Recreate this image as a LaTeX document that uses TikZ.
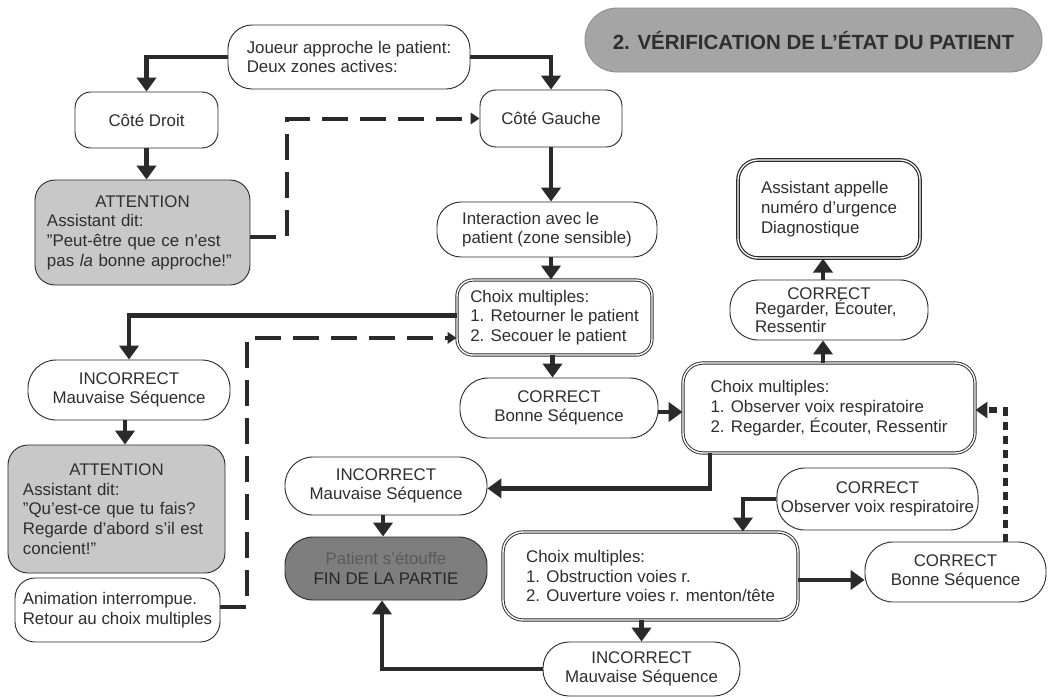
\documentclass[tikz,border=0pt]{standalone}
\usepackage{fontspec}
\setmainfont{Liberation Sans}
\usetikzlibrary{arrows.meta,calc}
\definecolor{ink}{HTML}{2A2A2A}
\definecolor{txt}{HTML}{2E2E2E}
\definecolor{attfill}{HTML}{C8C8C8}
\definecolor{finfill}{HTML}{7E7E7E}
\definecolor{fintxt}{HTML}{5A5A5A}
\definecolor{titlefill}{HTML}{A5A5A5}
\newcommand{\dq}{\char34\relax}
\begin{document}
\begin{tikzpicture}[x=0.25mm,y=-0.25mm,
  font=\fontsize{12}{14}\selectfont, text=txt,
  box/.style={draw=ink, line width=0.65pt, fill=white, rectangle, rounded corners=6mm, align=center, inner sep=1mm},
  choice/.style={box, double, double distance=1pt, line width=0.65pt, rounded corners=4mm, align=left},
  grey/.style={box, fill=attfill, rounded corners=5mm, align=left},
  flow/.style={draw=ink, line width=1.2mm, -{Triangle[width=4.8mm,length=3.5mm]}},
  dashflow/.style={draw=ink, line width=1mm, dash pattern=on 6.5mm off 3mm, -{Triangle[width=2.8mm,length=2.2mm]}},
  dotflow/.style={draw=ink, line width=1.4mm, dash pattern=on 2mm off 1.5mm, -{Triangle[width=4mm,length=3mm]}}
]
\fill[white] (0,0) rectangle (1049,697);
\useasboundingbox (0,0) rectangle (1049,697);

% nodes
\node[box, align=left, minimum width=60.5mm, minimum height=16mm] (joueur) at (349,57)
  {Joueur approche le patient:\\Deux zones actives:};
\node[box, rounded corners=4mm, minimum width=35.75mm, minimum height=14mm] (droit) at (146.5,120) {Côté Droit};
\node[grey, minimum width=53.75mm, minimum height=26.25mm, text width=47.75mm, inner xsep=3mm] (att1) at (142.5,232.5)
  {{\centering ATTENTION\par}Assistant dit:\\\dq Peut-être que ce n'est\\pas \textit{la} bonne approche!\dq};
\node[box, rounded corners=4mm, minimum width=35.5mm, minimum height=14.25mm] (gauche) at (551,118.5) {Côté Gauche};
\node[box, draw=titlefill!85!black, fill=titlefill, rounded corners=8mm, minimum width=114.25mm, minimum height=16mm,
  font=\bfseries\fontsize{14.6}{16}\selectfont] (title) at (813.5,40) {2. VÉRIFICATION DE L'ÉTAT DU PATIENT};
\node[box, align=left, rounded corners=5mm, double, double distance=0.9pt, line width=0.85pt,
  minimum width=45.5mm, minimum height=24.5mm] (assist) at (829,209)
  {Assistant appelle\\numéro d'urgence\\Diagnostique};
\node[box, align=left, minimum width=55mm, minimum height=13.75mm] (inter) at (547,229.5)
  {Interaction avec le\\patient (zone sensible)};
\node[choice, minimum width=48.75mm, minimum height=18.75mm] (choix1) at (554.5,317.5)
  {Choix multiples:\\1. Retourner le patient\\2. Secouer le patient};
\node[box, rounded corners=7mm, minimum width=49.5mm, minimum height=15mm] (bonne1) at (559,408)
  {CORRECT\\Bonne Séquence};
\node[choice, rounded corners=5mm, minimum width=73mm, minimum height=22.5mm] (choix2) at (829,408)
  {Choix multiples:\\1. Observer voix respiratoire\\2. Regarder, Écouter, Ressentir};
\node[box, rounded corners=7mm, align=left, minimum width=49.5mm, minimum height=15mm, text width=37mm, inner xsep=6.25mm,
  font=\fontsize{12}{11}\selectfont] (regard) at (829,310)
  {{\centering CORRECT\par}Regarder, Écouter,\\Ressentir};
\node[box, rounded corners=7mm, minimum width=50.5mm, minimum height=15mm] (incL) at (129,390)
  {INCORRECT\\Mauvaise Séquence};
\node[grey, minimum width=54.25mm, minimum height=32mm, text width=46.75mm, inner xsep=3.75mm] (att2) at (116.5,509)
  {{\centering ATTENTION\par}Assistant dit:\\\dq Qu'est-ce que tu fais?\\Regarde d'abord s'il est\\concient!\dq};
\node[box, align=left, rounded corners=5mm, inner xsep=0.5mm, minimum width=51.25mm, minimum height=16mm] (anim) at (117.5,610)
  {Animation interrompue.\\Retour au choix multiples};
\node[box, rounded corners=7mm, minimum width=50.5mm, minimum height=14.5mm] (incM) at (386,486)
  {INCORRECT\\Mauvaise Séquence};
\node[box, fill=finfill, rounded corners=7mm, minimum width=50.5mm, minimum height=15.75mm, text=black!85] (fin) at (386,568.5)
  {{\color{fintxt}Patient s'étouffe}\\FIN DE LA PARTIE};
\node[box, rounded corners=7mm, minimum width=49.75mm, minimum height=15.5mm] (observ) at (877.5,499)
  {CORRECT\\Observer voix respiratoire};
\node[choice, rounded corners=5mm, minimum width=73.75mm, minimum height=22mm] (choix3) at (650.5,576)
  {Choix multiples:\\1. Obstruction voies r.\\2. Ouverture voies r. menton/tête};
\node[box, rounded corners=7mm, minimum width=45.25mm, minimum height=15mm] (bonne2) at (955.5,572)
  {CORRECT\\Bonne Séquence};
\node[box, rounded corners=6.5mm, minimum width=49.25mm, minimum height=13.5mm] (incB) at (641.5,669)
  {INCORRECT\\Mauvaise Séquence};

% connectors
\draw[flow] (joueur.west) -| (droit.north);
\draw[flow] (joueur.east) -| (gauche.north);
\draw[flow] (droit.south) -- (droit.south |- att1.north);
\draw[dashflow] ([yshift=-1mm]att1.east) -- ++(37,0) |- (gauche.west);
\draw[flow] (gauche.south) -- (gauche.south |- inter.north);
\draw[flow] ([xshift=1mm]inter.south) -- ([xshift=1mm]inter.south |- choix1.north);
\draw[flow] ([yshift=0.6mm]choix1.west) -| (incL.north);
\draw[flow] ([xshift=-0.5mm]choix1.south) -- ([xshift=-0.5mm]choix1.south |- bonne1.north);
\draw[flow] ([yshift=-1mm]bonne1.east) -- ([yshift=-1mm]bonne1.east -| choix2.west);
\draw[flow] ([xshift=-1.5mm]choix2.north) -- ([xshift=-1.5mm]choix2.north |- regard.south);
\draw[flow] ([xshift=-1.5mm]regard.north) -- ([xshift=-1.5mm]regard.north |- assist.south);
\draw[flow] ([xshift=-1mm]incL.south) -- ([xshift=-1mm]incL.south |- att2.north);
\draw[dashflow] ([yshift=0.7mm]anim.east) -- ++(27,0) |- ([yshift=-5.1mm]choix1.west);
\draw[flow] ([xshift=-29.75mm]choix2.south) |- ([yshift=-0.6mm]incM.east);
\draw[flow] ([xshift=-0.75mm]incM.south) -- ([xshift=-0.75mm]fin.north);
\draw[flow] (observ.west) -| ([xshift=23.1mm]choix3.north);
\draw[flow] ([yshift=-1mm]choix3.east) -- ([yshift=-1mm]choix3.east -| bonne2.west);
\draw[dotflow] ([xshift=12.5mm]bonne2.north) |- ([yshift=-0.5mm]choix2.east);
\draw[flow] (incB.north |- choix3.south) -- (incB.north);
\draw[flow] (incB.west) -| ([xshift=-1mm]fin.south);
\end{tikzpicture}
\end{document}
